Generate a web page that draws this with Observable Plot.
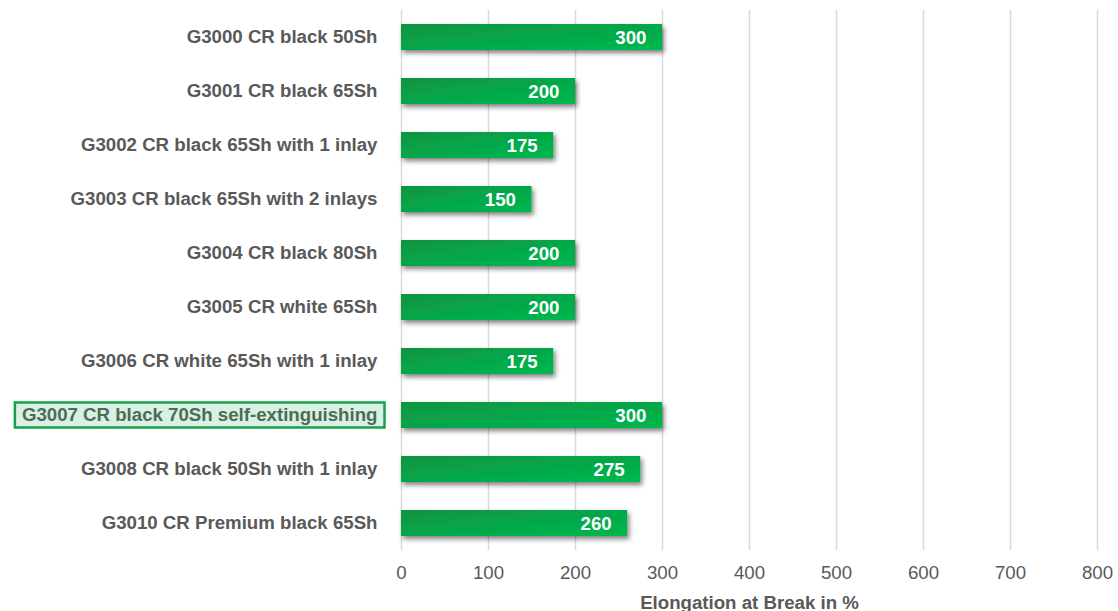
<!DOCTYPE html>
<html>
<head>
<meta charset="utf-8">
<script src="https://cdn.jsdelivr.net/npm/d3@7"></script>
<script src="https://cdn.jsdelivr.net/npm/@observablehq/plot@0.6"></script>
<style>
  html, body { margin: 0; padding: 0; background: #fff; }
  #chart { width: 1118px; height: 611px; }
  #chart svg, #chart svg text { font-family: "Liberation Sans", Arial, sans-serif; }
</style>
</head>
<body>
<div id="chart"></div>
<script>
const categories = [
  "G3000 CR black 50Sh",
  "G3001 CR black 65Sh",
  "G3002 CR black 65Sh with 1 inlay",
  "G3003 CR black 65Sh with 2 inlays",
  "G3004 CR black 80Sh",
  "G3005 CR white 65Sh",
  "G3006 CR white 65Sh with 1 inlay",
  "G3007 CR black 70Sh self-extinguishing",
  "G3008 CR black 50Sh with 1 inlay",
  "G3010 CR Premium black 65Sh"
];
const values = [300, 200, 175, 150, 200, 200, 175, 300, 275, 260];
const xTicks = [0, 100, 200, 300, 400, 500, 600, 700, 800];
const highlighted = "G3007 CR black 70Sh self-extinguishing";
const xLabel = "Elongation at Break in %";

const data = categories.map((c, i) => ({ name: c, value: values[i] }));
const FS = 18.67;

const NS = "http://www.w3.org/2000/svg";
function defsMark() {
  const defs = document.createElementNS(NS, "defs");
  defs.innerHTML = `
    <linearGradient id="barGrad" x1="0" y1="0" x2="1" y2="1">
      <stop offset="0%" stop-color="#0c9441"/>
      <stop offset="100%" stop-color="#00b94f"/>
    </linearGradient>
    <filter id="barShadow" x="-5%" y="-40%" width="115%" height="220%">
      <feDropShadow dx="2" dy="3" stdDeviation="2.5" flood-color="#000" flood-opacity="0.5"/>
    </filter>`;
  return defs;
}

const chart = Plot.plot({
  width: 1118,
  height: 611,
  marginLeft: 401,
  marginRight: 21,
  marginTop: 10,
  marginBottom: 61,
  style: `font-family: 'Liberation Sans', Arial, sans-serif; font-size: ${FS}px; color: #595959; background: #fff;`,
  x: { domain: [0, 800], ticks: xTicks },
  y: { domain: categories, paddingInner: 0.52, paddingOuter: 0.26, label: null },
  marks: [
    defsMark,
    Plot.gridX(xTicks, { stroke: "#d9d9d9", strokeWidth: 1.5, strokeOpacity: 1 }),
    Plot.axisX({
      ticks: xTicks, tickSize: 0, tickPadding: 15, fontSize: FS, fill: "#595959",
      label: xLabel, labelAnchor: "center", labelOffset: 58, labelArrow: "none"
    }),
    Plot.axisY({
      tickSize: 0, tickPadding: 24, fontSize: FS, fontWeight: "bold", fill: "#595959", label: null
    }),
    Plot.barX(data, {
      x: "value", y: "name", fill: "url(#barGrad)"
    }),
    Plot.text(data, {
      x: "value", y: "name", text: d => String(d.value),
      textAnchor: "end", dx: -16, dy: 1, fill: "white", fontWeight: "bold", fontSize: FS
    })
  ]
});

document.getElementById("chart").appendChild(chart);

// bar shadow
chart.querySelectorAll("[aria-label='bar']").forEach(g => g.setAttribute("filter", "url(#barShadow)"));

// Axis label styling
chart.querySelectorAll("[aria-label='x-axis label']").forEach(g => {
  g.setAttribute("font-weight", "bold");
  g.querySelectorAll("text").forEach(t => { t.setAttribute("font-weight", "bold"); t.setAttribute("fill", "#595959"); });
});

// Highlight box around the highlighted category label (derived from its rendered bbox)
const yTexts = chart.querySelectorAll("[aria-label='y-axis tick label'] text");
yTexts.forEach(t => {
  if (t.textContent === highlighted) {
    const bb = t.getBBox();
    const tr = t.getAttribute("transform");
    const rect = document.createElementNS(NS, "rect");
    rect.setAttribute("x", bb.x - 7);
    rect.setAttribute("y", bb.y - 2);
    rect.setAttribute("width", bb.width + 14);
    rect.setAttribute("height", bb.height + 4);
    rect.setAttribute("fill", "#d8f1e2");
    rect.setAttribute("stroke", "#17a24a");
    rect.setAttribute("stroke-width", "2.5");
    if (tr) rect.setAttribute("transform", tr);
    t.parentNode.insertBefore(rect, t);
    t.setAttribute("fill", "#4d6b58");
    t.style.fill = "#4d6b58";
  }
});
</script>
</body>
</html>
